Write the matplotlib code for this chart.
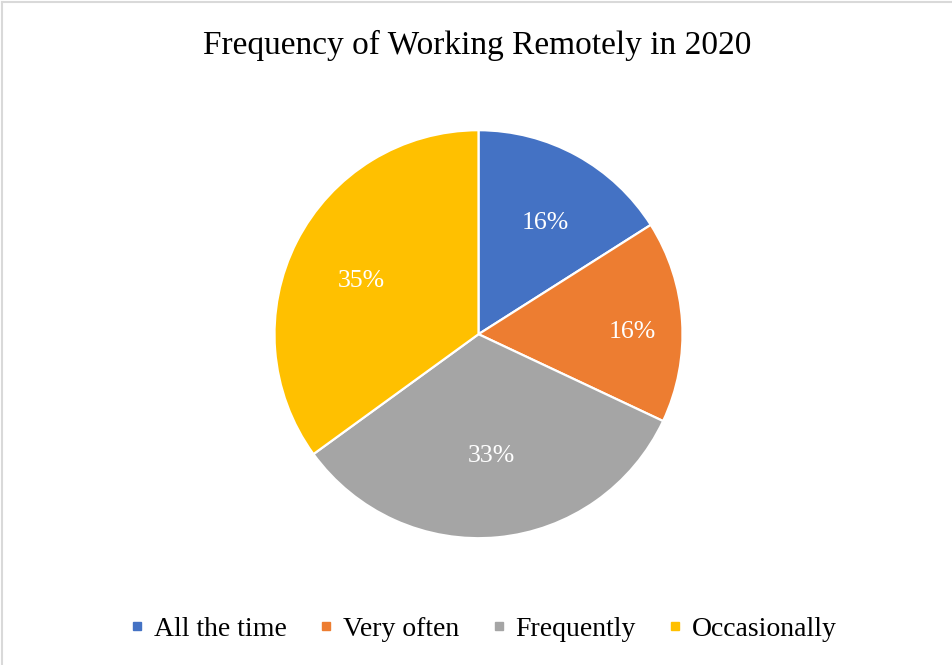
import numpy as np
import matplotlib.pyplot as plt
from matplotlib.lines import Line2D

plt.rcParams['font.family'] = ['Liberation Serif', 'DejaVu Serif']

categories = ["All the time", "Very often", "Frequently", "Occasionally"]
shares = [16, 16, 33, 35]
colors = ["#4472C4", "#ED7D31", "#A5A5A5", "#FFC000"]

# radial spot of each percentage label, as a fraction of the radius
label_radius = [0.66, 0.745, 0.565, 0.655]

W, H = 953, 665
fig = plt.figure(figsize=(W / 100, H / 100), dpi=100)

# pie centred at (478.5, 334) px with a 204 px radius
cx, cy, r = 478.5, 334.2, 204
ax = fig.add_axes([(cx - r) / W, (H - cy - r) / H, 2 * r / W, 2 * r / H])
wedges, _ = ax.pie(shares, colors=colors, startangle=90, counterclock=False,
                   radius=1, wedgeprops=dict(edgecolor="white", linewidth=1.6))
ax.set_xlim(-1, 1)
ax.set_ylim(-1, 1)
ax.set_aspect("auto")
ax.axis("off")

total = sum(shares)
for w, val, rr in zip(wedges, shares, label_radius):
    mid = np.deg2rad((w.theta1 + w.theta2) / 2)
    ax.text(rr * np.cos(mid) + 0.01, rr * np.sin(mid) - 0.035,
            f"{round(100 * val / total)}%",
            color="white", fontsize=18.5, ha="center", va="center")

fig.text(477.5 / W, 1 - 54 / H, "Frequency of Working Remotely in 2020",
         fontsize=24, ha="center", va="baseline", color="#000000")

handles = [Line2D([], [], marker="s", linestyle="none", markersize=6.3,
                  markerfacecolor=c, markeredgecolor=c) for c in colors]
fig.legend(handles, categories, loc="center", bbox_to_anchor=(483 / W, 1 - 629 / H),
           ncol=4, frameon=False, fontsize=20, handlelength=0.6,
           handletextpad=0.3, columnspacing=1.12)

# chart area border: only its top and left edges fall inside the image
fig.add_artist(Line2D([2 / W, 2 / W], [0, 1 - 2 / H], transform=fig.transFigure,
                      color="#d9d9d9", linewidth=1.5))
fig.add_artist(Line2D([2 / W, 1], [1 - 2 / H, 1 - 2 / H], transform=fig.transFigure,
                      color="#d9d9d9", linewidth=1.5))

fig.savefig("out.png", dpi=100)
